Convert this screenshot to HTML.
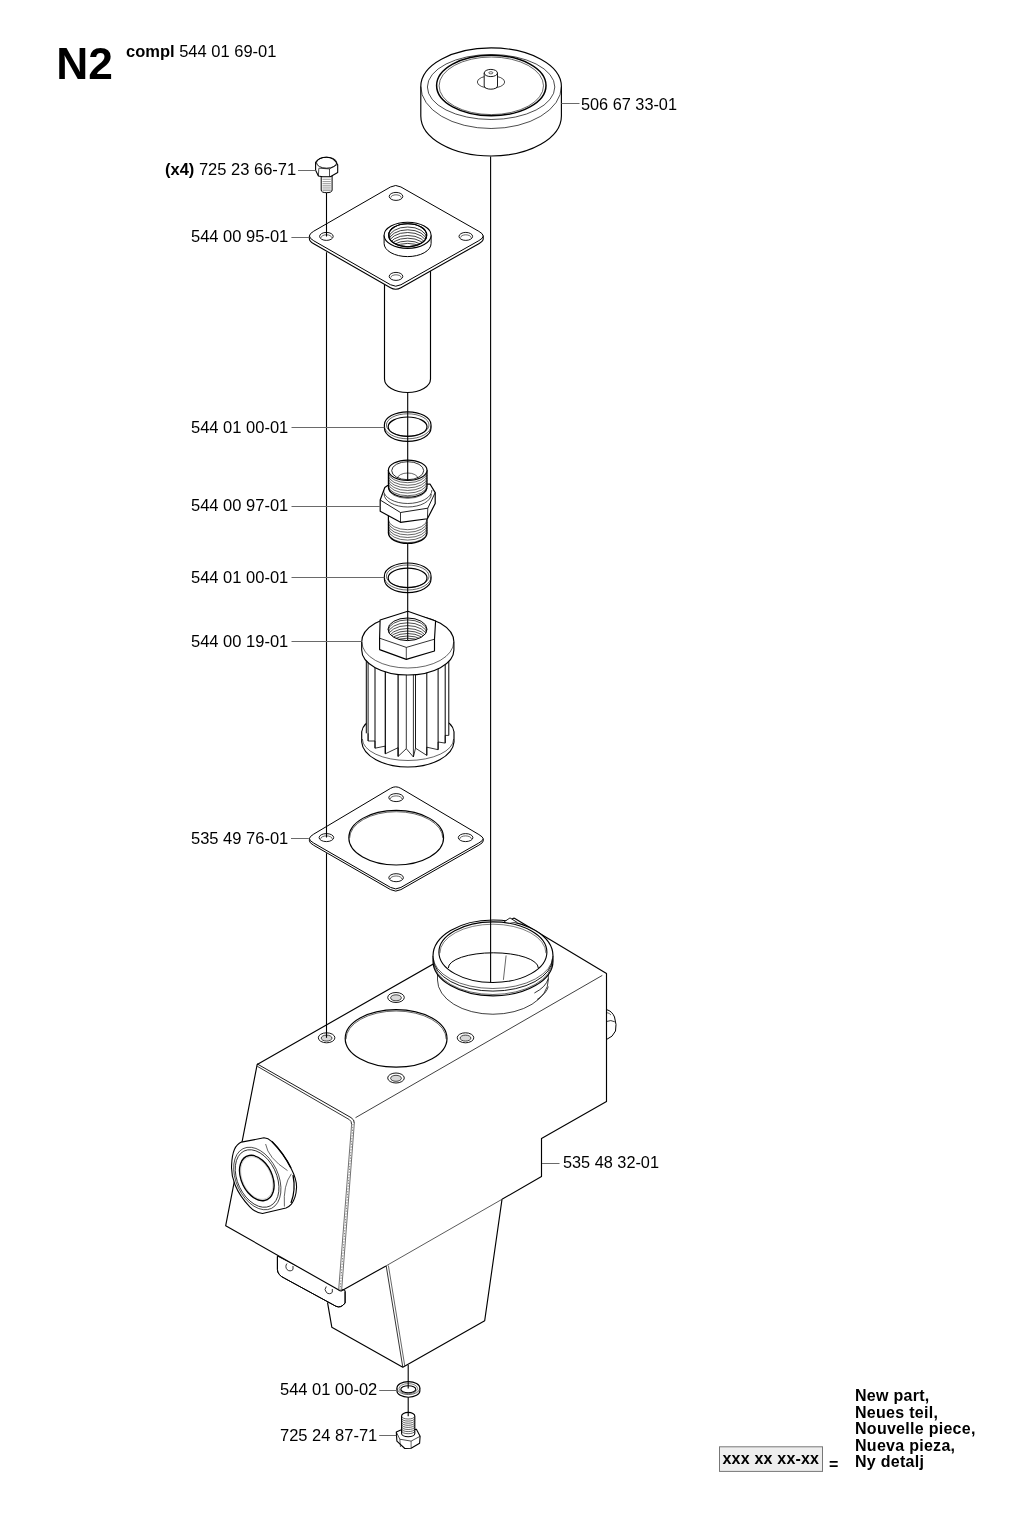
<!DOCTYPE html>
<html><head><meta charset="utf-8"><style>
html,body{margin:0;padding:0;background:#fff;width:1024px;height:1513px;overflow:hidden}
svg{display:block;will-change:transform}
text{font-family:"Liberation Sans",sans-serif;fill:#000}
</style></head><body>
<svg width="1024" height="1513" viewBox="0 0 1024 1513">
<path d="M420.8,86.5 L420.8,116 A70.3,40 0 0 0 561.4,116 L561.4,86.5 A70.3,38.6 0 0 0 420.8,86.5 Z" fill="#fff" stroke="#000" stroke-width="1.15" stroke-linejoin="round" />
<path d="M420.8,86.5 A70.3,42 0 0 0 561.4,86.5" fill="none" stroke="#000" stroke-width="0.7" stroke-linejoin="round" />
<ellipse cx="491.1" cy="87" rx="63.7" ry="32.5" fill="none" stroke="#000" stroke-width="0.7"/>
<ellipse cx="491.3" cy="85.5" rx="54.7" ry="30.3" fill="none" stroke="#000" stroke-width="1.5"/>
<ellipse cx="491.3" cy="85.8" rx="52.2" ry="28.8" fill="none" stroke="#000" stroke-width="0.6"/>
<ellipse cx="491" cy="82" rx="13.7" ry="6.2" fill="none" stroke="#000" stroke-width="0.7"/>
<path d="M484.2,73 L484.2,86 A6.65,3.2 0 0 0 497.5,86 L497.5,73" fill="#fff" stroke="#000" stroke-width="0.9" stroke-linejoin="round" />
<ellipse cx="490.85" cy="73" rx="6.65" ry="3.6" fill="#fff" stroke="#000" stroke-width="0.9"/>
<ellipse cx="490.85" cy="72.8" rx="2" ry="1.1" fill="none" stroke="#000" stroke-width="0.6"/>
<path d="M321.2,176 L321.2,190 Q321.2,192.7 326.6,192.7 Q332.1,192.7 332.1,190 L332.1,176 Z" fill="#fff" stroke="#000" stroke-width="1.0" stroke-linejoin="round" />
<line x1="322.5" y1="179.3" x2="330.8" y2="179.3" stroke="#777" stroke-width="0.7"/>
<line x1="322.5" y1="181.5" x2="330.8" y2="181.5" stroke="#777" stroke-width="0.7"/>
<line x1="322.5" y1="183.4" x2="330.8" y2="183.4" stroke="#777" stroke-width="0.7"/>
<line x1="322.5" y1="185.3" x2="330.8" y2="185.3" stroke="#777" stroke-width="0.7"/>
<line x1="322.5" y1="187.1" x2="330.8" y2="187.1" stroke="#777" stroke-width="0.7"/>
<line x1="322.5" y1="189" x2="330.8" y2="189" stroke="#777" stroke-width="0.7"/>
<line x1="322.5" y1="190.6" x2="330.8" y2="190.6" stroke="#777" stroke-width="0.7"/>
<path d="M315.6,162.2 L315.6,170.2 L318.4,176 L322.5,176.8 L330.3,176.8 L337.7,172.6 L337.7,164.8 Q334,157.2 326.6,157.2 Q319,157.2 315.6,162.2 Z" fill="#fff" stroke="#000" stroke-width="1.1" stroke-linejoin="round" />
<ellipse cx="326.6" cy="162.7" rx="10.1" ry="5.5" fill="none" stroke="#000" stroke-width="0.9"/>
<path d="M318.8,168.2 L329.5,168.9 L336.9,164.8" fill="none" stroke="#000" stroke-width="0.7" stroke-linejoin="round" />
<line x1="318.8" y1="168.4" x2="318.4" y2="176" stroke="#000" stroke-width="0.7"/>
<line x1="329.5" y1="168.9" x2="329.5" y2="176.7" stroke="#000" stroke-width="0.7"/>
<path d="M384.5,250 L384.5,379 A23,13.5 0 0 0 430.5,379 L430.5,250" fill="#fff" stroke="#000" stroke-width="1.15" stroke-linejoin="round" />
<path d="M309.40,236.00 L309.40,239.00 Q309.40,241.30 313.74,243.78 L390.49,287.72 Q395.70,290.70 400.92,287.75 L478.85,243.66 Q483.20,241.20 483.20,239.00 L483.20,236.00 Z" fill="#fff" stroke="#000" stroke-width="1.1" stroke-linejoin="round" />
<path d="M313.73,231.20 L390.50,186.99 Q395.70,184.00 400.91,186.97 L478.85,231.33 Q483.20,233.80 483.20,236.00 Q483.20,238.20 478.85,240.66 L400.92,284.75 Q395.70,287.70 390.49,284.72 L313.74,240.78 Q309.40,238.30 309.40,236.00 Q309.40,233.70 313.73,231.20 Z" fill="#fff" stroke="#000" stroke-width="1.0" stroke-linejoin="round" />
<ellipse cx="396" cy="196.4" rx="6.8" ry="4" fill="#fff" stroke="#000" stroke-width="0.9"/>
<path d="M390.8,197.6 A5.2,2.8 0 0 1 401.2,197.6" fill="none" stroke="#000" stroke-width="0.6" stroke-linejoin="round" />
<ellipse cx="326.4" cy="236.4" rx="6.8" ry="4" fill="#fff" stroke="#000" stroke-width="0.9"/>
<path d="M321.2,237.6 A5.2,2.8 0 0 1 331.6,237.6" fill="none" stroke="#000" stroke-width="0.6" stroke-linejoin="round" />
<ellipse cx="465.8" cy="236.4" rx="6.8" ry="4" fill="#fff" stroke="#000" stroke-width="0.9"/>
<path d="M460.6,237.6 A5.2,2.8 0 0 1 471,237.6" fill="none" stroke="#000" stroke-width="0.6" stroke-linejoin="round" />
<ellipse cx="396" cy="276.4" rx="6.8" ry="4" fill="#fff" stroke="#000" stroke-width="0.9"/>
<path d="M390.8,277.6 A5.2,2.8 0 0 1 401.2,277.6" fill="none" stroke="#000" stroke-width="0.6" stroke-linejoin="round" />
<path d="M384.1,235.3 L384.1,243.5 A23.5,13.1 0 0 0 431.1,243.5 L431.1,235.3" fill="#fff" stroke="#000" stroke-width="1.0" stroke-linejoin="round" />
<ellipse cx="407.6" cy="235.3" rx="23.5" ry="13.1" fill="#fff" stroke="#000" stroke-width="1.1"/>
<clipPath id="cb"><ellipse cx="407.7" cy="235.2" rx="19" ry="11.5"/></clipPath>
<ellipse cx="407.7" cy="235.2" rx="19" ry="11.5" fill="#fff" stroke="#000" stroke-width="1.1"/>
<g clip-path="url(#cb)"><ellipse cx="407.7" cy="238.50" rx="19" ry="11.5" fill="none" stroke="#000" stroke-width="0.75"/><ellipse cx="407.7" cy="241.30" rx="19" ry="11.5" fill="none" stroke="#000" stroke-width="0.75"/><ellipse cx="407.7" cy="244.00" rx="19" ry="11.5" fill="none" stroke="#000" stroke-width="0.75"/><ellipse cx="407.7" cy="247.00" rx="19" ry="11.5" fill="none" stroke="#000" stroke-width="0.75"/><ellipse cx="407.7" cy="249.70" rx="19" ry="11.5" fill="none" stroke="#000" stroke-width="0.75"/><ellipse cx="407.7" cy="252.50" rx="19" ry="11.5" fill="none" stroke="#000" stroke-width="0.75"/><ellipse cx="407.7" cy="254.90" rx="19" ry="11.5" fill="none" stroke="#000" stroke-width="0.75"/></g>
<ellipse cx="407.7" cy="235.2" rx="19" ry="11.5" fill="none" stroke="#000" stroke-width="1.1"/>
<path d="M384.4,424.8 L384.4,428.1 A23.3,13.3 0 0 0 431.0,428.1 L431.0,424.8 A23.3,13 0 0 0 384.4,424.8 Z" fill="#fff" stroke="#000" stroke-width="1.15" stroke-linejoin="round" />
<path d="M384.4,425.6 A23.3,13.2 0 0 0 431,425.6" fill="none" stroke="#000" stroke-width="0.6" stroke-linejoin="round" />
<ellipse cx="407.7" cy="425" rx="21.3" ry="11.2" fill="none" stroke="#000" stroke-width="0.6"/>
<ellipse cx="407.6" cy="426.7" rx="19.4" ry="9.7" fill="none" stroke="#000" stroke-width="1.2"/>
<path d="M384.4,576.0 L384.4,579.3 A23.3,13.3 0 0 0 431.0,579.3 L431.0,576.0 A23.3,13 0 0 0 384.4,576.0 Z" fill="#fff" stroke="#000" stroke-width="1.15" stroke-linejoin="round" />
<path d="M384.4,576.8 A23.3,13.2 0 0 0 431,576.8" fill="none" stroke="#000" stroke-width="0.6" stroke-linejoin="round" />
<ellipse cx="407.7" cy="576.2" rx="21.3" ry="11.2" fill="none" stroke="#000" stroke-width="0.6"/>
<ellipse cx="407.6" cy="577.9" rx="19.4" ry="9.7" fill="none" stroke="#000" stroke-width="1.2"/>
<path d="M388.4,515 L388.4,533 A19.3,10.4 0 0 0 427,533 L427,515 Z" fill="#fff" stroke="#000" stroke-width="1.2" stroke-linejoin="round" />
<path d="M388.4,519.5 A19.3,10.2 0 0 0 427,519.5" fill="none" stroke="#000" stroke-width="0.6" stroke-linejoin="round" />
<path d="M388.4,522.1 A19.3,10.2 0 0 0 427,522.1" fill="none" stroke="#000" stroke-width="0.6" stroke-linejoin="round" />
<path d="M388.4,524.7 A19.3,10.2 0 0 0 427,524.7" fill="none" stroke="#000" stroke-width="0.6" stroke-linejoin="round" />
<path d="M388.4,527.3 A19.3,10.2 0 0 0 427,527.3" fill="none" stroke="#000" stroke-width="0.6" stroke-linejoin="round" />
<path d="M388.4,529.9 A19.3,10.2 0 0 0 427,529.9" fill="none" stroke="#000" stroke-width="0.6" stroke-linejoin="round" />
<path d="M388.4,532.5 A19.3,10.2 0 0 0 427,532.5" fill="none" stroke="#000" stroke-width="0.6" stroke-linejoin="round" />
<path d="M380.2,500 L384.8,487.5 L387.6,485.5 L430,484 L435.2,492.6 L435.2,503.5 L427.4,518.75 L400.5,522.3 L380.2,511.3 Z" fill="#fff" stroke="#000" stroke-width="1.2" stroke-linejoin="round" />
<path d="M380.2,500 L400.5,512.5 L427.8,508.2 L435.2,492.6" fill="none" stroke="#000" stroke-width="0.9" stroke-linejoin="round" />
<line x1="400.5" y1="512.5" x2="400.5" y2="522.3" stroke="#000" stroke-width="0.8"/>
<line x1="427.8" y1="508.2" x2="427.4" y2="518.75" stroke="#000" stroke-width="0.8"/>
<path d="M384.1,494 A23.6,13 0 0 0 431.3,494" fill="none" stroke="#000" stroke-width="0.7" stroke-linejoin="round" />
<path d="M383.5,490 A24.2,13.5 0 0 0 431.9,490" fill="none" stroke="#000" stroke-width="0.7" stroke-linejoin="round" />
<path d="M388.4,470.3 L388.4,487 A19.3,10.2 0 0 0 427,487 L427,470.3 Z" fill="#fff" stroke="#000" stroke-width="1.2" stroke-linejoin="round" />
<path d="M388.4,472.5 A19.3,10.2 0 0 0 427,472.5" fill="none" stroke="#000" stroke-width="0.6" stroke-linejoin="round" />
<path d="M388.4,475.1 A19.3,10.2 0 0 0 427,475.1" fill="none" stroke="#000" stroke-width="0.6" stroke-linejoin="round" />
<path d="M388.4,477.7 A19.3,10.2 0 0 0 427,477.7" fill="none" stroke="#000" stroke-width="0.6" stroke-linejoin="round" />
<path d="M388.4,480.3 A19.3,10.2 0 0 0 427,480.3" fill="none" stroke="#000" stroke-width="0.6" stroke-linejoin="round" />
<path d="M388.4,482.9 A19.3,10.2 0 0 0 427,482.9" fill="none" stroke="#000" stroke-width="0.6" stroke-linejoin="round" />
<path d="M388.4,485.5 A19.3,10.2 0 0 0 427,485.5" fill="none" stroke="#000" stroke-width="0.6" stroke-linejoin="round" />
<path d="M388.4,488.1 A19.3,10.2 0 0 0 427,488.1" fill="none" stroke="#000" stroke-width="0.6" stroke-linejoin="round" />
<ellipse cx="407.7" cy="470.3" rx="19.3" ry="10.2" fill="#fff" stroke="#000" stroke-width="1.2"/>
<ellipse cx="407.7" cy="470.7" rx="16" ry="9" fill="none" stroke="#000" stroke-width="0.8"/>
<path d="M397.5,478.5 A10.2,5.5 0 0 1 417.9,478.5" fill="none" stroke="#000" stroke-width="0.6" stroke-linejoin="round" />
<path d="M361.7,731.8 L361.7,742 A46.2,26.2 0 0 0 454,742 L454,731.8 A46.2,21 0 0 0 361.7,731.8 Z" fill="#fff" stroke="#000" stroke-width="1.15" stroke-linejoin="round" />
<path d="M362.4,739 A45.6,21.5 0 0 0 453.6,739" fill="none" stroke="#000" stroke-width="0.6" stroke-linejoin="round" />
<path d="M366.3,650 L366.3,733.3 L368.1,741 L375,748.2 L385.3,753.8 L398.1,756.4 L413.4,757 L426.8,755.4 L438.1,749.7 L445.2,743.1 L448.8,735.4 L448.8,650 Z" fill="#fff" stroke="#fff" stroke-width="0.01" stroke-linejoin="round" />
<line x1="366.3" y1="655" x2="366.3" y2="733.3" stroke="#000" stroke-width="1.0"/>
<line x1="368.1" y1="655" x2="368.1" y2="741" stroke="#000" stroke-width="0.9"/>
<line x1="375" y1="655" x2="375" y2="748.2" stroke="#000" stroke-width="1.0"/>
<line x1="385.3" y1="655" x2="385.3" y2="753.8" stroke="#000" stroke-width="1.2"/>
<line x1="398.1" y1="655" x2="398.1" y2="756.4" stroke="#000" stroke-width="1.2"/>
<line x1="406.3" y1="655" x2="406.3" y2="748.7" stroke="#000" stroke-width="0.8"/>
<line x1="413.4" y1="655" x2="413.4" y2="757" stroke="#000" stroke-width="0.8"/>
<line x1="415.5" y1="655" x2="415.5" y2="748.2" stroke="#000" stroke-width="0.9"/>
<line x1="426.8" y1="655" x2="426.8" y2="755.4" stroke="#000" stroke-width="1.0"/>
<line x1="438.1" y1="655" x2="438.1" y2="749.7" stroke="#000" stroke-width="1.0"/>
<line x1="445.2" y1="655" x2="445.2" y2="743.1" stroke="#000" stroke-width="1.0"/>
<line x1="448.8" y1="655" x2="448.8" y2="735.4" stroke="#000" stroke-width="1.0"/>
<path d="M368.1,733.3 L368.1,741 L375,741 L375,748.2 L385.3,746.1 L385.3,753.8 L398.1,747.7 L398.1,756.4 L406.3,748.7 L413.4,757 L415.5,748.2 L426.8,755.4 L426.8,747.2 L438.1,749.7 L438.1,742 L445.2,743.1 L445.2,735.4 L448.8,735.4" fill="none" stroke="#000" stroke-width="0.8" stroke-linejoin="round" />
<path d="M361.7,642 L361.7,650 A46.1,25 0 0 0 453.9,650 L453.9,642 A46.1,26.5 0 0 0 361.7,642 Z" fill="#fff" stroke="#000" stroke-width="1.15" stroke-linejoin="round" />
<path d="M361.9,642 A45.9,26 0 0 0 453.7,642" fill="none" stroke="#000" stroke-width="0.6" stroke-linejoin="round" />
<path d="M407.8,611.3 L435.6,621 L434.5,639.2 L434.5,651 L406.3,659.4 L379.6,649.6 L379.6,638.2 L380.1,620 Z" fill="#fff" stroke="#000" stroke-width="1.15" stroke-linejoin="round" />
<path d="M379.6,638.2 L406.3,647.4 L434.5,639.2" fill="none" stroke="#000" stroke-width="0.8" stroke-linejoin="round" />
<line x1="406.3" y1="647.4" x2="406.3" y2="659.4" stroke="#000" stroke-width="0.7"/>
<clipPath id="cf"><ellipse cx="407.5" cy="629.3" rx="19.5" ry="11.3"/></clipPath>
<g clip-path="url(#cf)"><ellipse cx="407.5" cy="631.20" rx="19.5" ry="11.3" fill="none" stroke="#000" stroke-width="0.7"/><ellipse cx="407.5" cy="634.10" rx="19.5" ry="11.3" fill="none" stroke="#000" stroke-width="0.7"/><ellipse cx="407.5" cy="636.90" rx="19.5" ry="11.3" fill="none" stroke="#000" stroke-width="0.7"/><ellipse cx="407.5" cy="639.80" rx="19.5" ry="11.3" fill="none" stroke="#000" stroke-width="0.7"/><ellipse cx="407.5" cy="642.30" rx="19.5" ry="11.3" fill="none" stroke="#000" stroke-width="0.7"/><ellipse cx="407.5" cy="644.80" rx="19.5" ry="11.3" fill="none" stroke="#000" stroke-width="0.7"/><ellipse cx="407.5" cy="647.30" rx="19.5" ry="11.3" fill="none" stroke="#000" stroke-width="0.7"/><ellipse cx="407.5" cy="649.50" rx="19.5" ry="11.3" fill="none" stroke="#000" stroke-width="0.7"/></g>
<ellipse cx="407.5" cy="629.3" rx="19.5" ry="11.3" fill="none" stroke="#000" stroke-width="1.0"/>
<path d="M309.40,838.65 L309.40,840.85 Q309.40,842.80 313.73,845.30 L390.50,889.60 Q395.70,892.60 400.91,889.63 L478.86,845.18 Q483.20,842.70 483.20,841.00 L483.20,838.80 Z" fill="#fff" stroke="#000" stroke-width="1.0" stroke-linejoin="round" />
<path d="M313.70,834.14 L390.55,788.37 Q395.70,785.30 400.86,788.36 L478.90,834.55 Q483.20,837.10 483.20,838.80 Q483.20,840.50 478.86,842.98 L400.91,887.43 Q395.70,890.40 390.50,887.40 L313.73,843.10 Q309.40,840.60 309.40,838.65 Q309.40,836.70 313.70,834.14 Z" fill="#fff" stroke="#000" stroke-width="1.0" stroke-linejoin="round" />
<ellipse cx="396.1" cy="797.6" rx="7.3" ry="4" fill="#fff" stroke="#000" stroke-width="0.9"/>
<path d="M390.3,798.9 A5.8,3 0 0 1 401.9,798.9" fill="none" stroke="#000" stroke-width="0.6" stroke-linejoin="round" />
<ellipse cx="326.4" cy="837.6" rx="7.3" ry="4" fill="#fff" stroke="#000" stroke-width="0.9"/>
<path d="M320.6,838.9 A5.8,3 0 0 1 332.2,838.9" fill="none" stroke="#000" stroke-width="0.6" stroke-linejoin="round" />
<ellipse cx="465.6" cy="837.6" rx="7.3" ry="4" fill="#fff" stroke="#000" stroke-width="0.9"/>
<path d="M459.8,838.9 A5.8,3 0 0 1 471.4,838.9" fill="none" stroke="#000" stroke-width="0.6" stroke-linejoin="round" />
<ellipse cx="396.1" cy="877.7" rx="7.3" ry="4" fill="#fff" stroke="#000" stroke-width="0.9"/>
<path d="M390.3,879 A5.8,3 0 0 1 401.9,879" fill="none" stroke="#000" stroke-width="0.6" stroke-linejoin="round" />
<ellipse cx="396.2" cy="837.7" rx="47.4" ry="27.3" fill="none" stroke="#000" stroke-width="1.1"/>
<path d="M349.6,838.3 A46.6,26.6 0 0 1 442.8,838.3" fill="none" stroke="#000" stroke-width="0.6" stroke-linejoin="round" />
<path d="M502,1199.3 L484.7,1320.7 L402.8,1367.2 L331.8,1327.2 L327.5,1302.4 L386,1267 Z" fill="#fff" stroke="none"/>
<path d="M502,1199.3 L484.7,1320.7 L402.8,1367.2 L331.8,1327.2 L327.5,1302.4" fill="none" stroke="#000" stroke-width="1.15" stroke-linejoin="round" />
<line x1="386.2" y1="1266" x2="402.8" y2="1367.2" stroke="#000" stroke-width="0.8"/>
<line x1="388.4" y1="1265.5" x2="404.8" y2="1366" stroke="#000" stroke-width="0.6"/>
<path d="M277.4,1256 L277.4,1269.4 Q277.4,1275 284.6,1278.3 L336,1306.3 Q341,1308.5 345.1,1303 L345.1,1290.6 L277.4,1256 Z" fill="#fff" stroke="#000" stroke-width="1.0" stroke-linejoin="round" />
<path d="M257.2,1064.4 L353.5,1117.7 L339.7,1290.6 L225.7,1225.7 Z" fill="#fff" stroke="none"/>
<path d="M353.5,1117.7 L606.5,973.6 L606.5,1101.4 L541.5,1138.5 L541.5,1176.6 L339.7,1290.6 Z" fill="#fff" stroke="none"/>
<path d="M257.2,1064.4 L514,918 L606.5,973.6 L353.5,1117.7 Z" fill="#fff" stroke="none"/>
<path d="M277.4,1256.8 L277.4,1269.4 Q277.4,1275 284.6,1278.3 L336,1306.3 Q341,1308.5 345.1,1303 L345.1,1291.5" fill="none" stroke="#000" stroke-width="1.0" stroke-linejoin="round" />
<path d="M287,1263.5 A3.4,3.6 0 0 0 293,1269.5 L293,1266" fill="none" stroke="#000" stroke-width="0.8" stroke-linejoin="round" />
<path d="M326.3,1286.5 A3.4,3.6 0 0 0 332.3,1292.3 L332.3,1289" fill="none" stroke="#000" stroke-width="0.8" stroke-linejoin="round" />
<path d="M606.5,1009.6 Q612,1011 614.5,1017 Q617,1025 615.5,1031 Q613,1037 606.5,1039.5" fill="none" stroke="#000" stroke-width="1.0" stroke-linejoin="round" />
<path d="M606.5,1021.5 Q611,1019.5 614.8,1021.8" fill="none" stroke="#000" stroke-width="0.8" stroke-linejoin="round" />
<path d="M606.5,1012.5 Q609.5,1013 611,1015" fill="none" stroke="#000" stroke-width="0.6" stroke-linejoin="round" />
<path d="M514,918 L606.5,973.6 L606.5,1101.4 L541.5,1138.5 L541.5,1176.6 L502,1199.3" fill="none" stroke="#000" stroke-width="1.15" stroke-linejoin="round" />
<line x1="502" y1="1199.3" x2="386" y2="1265.9" stroke="#000" stroke-width="0.65"/>
<path d="M386,1265.9 L341.2,1291 L339.7,1290.6 L225.7,1225.7 L257.2,1064.4 L514,918" fill="none" stroke="#000" stroke-width="1.15" stroke-linejoin="round" />
<path d="M257,1063.8 L351,1117.6 Q354.6,1119.6 354.3,1123.5" fill="none" stroke="#000" stroke-width="0.9" stroke-linejoin="round" />
<path d="M257.3,1066.3 L349.3,1119.6 Q351.8,1121.2 351.6,1124.5" fill="none" stroke="#000" stroke-width="0.8" stroke-linejoin="round" />
<line x1="354.3" y1="1123.5" x2="341.6" y2="1290.6" stroke="#333" stroke-width="0.7"/>
<line x1="351.6" y1="1124.5" x2="338.6" y2="1290.6" stroke="#333" stroke-width="0.7"/>
<line x1="353" y1="1124" x2="340.1" y2="1290.6" stroke="#777" stroke-width="0.9" stroke-dasharray="1.4,1.4"/>
<line x1="355.5" y1="1117.7" x2="602.3" y2="975.4" stroke="#000" stroke-width="0.75"/>
<ellipse cx="396" cy="997.5" rx="8.3" ry="5" fill="#fff" stroke="#000" stroke-width="0.9"/>
<ellipse cx="396" cy="997.8" rx="5.4" ry="3" fill="#d8d8d8" stroke="#000" stroke-width="0.7"/>
<ellipse cx="326.6" cy="1037.8" rx="8.3" ry="5" fill="#fff" stroke="#000" stroke-width="0.9"/>
<ellipse cx="326.6" cy="1038.1" rx="5.4" ry="3" fill="#d8d8d8" stroke="#000" stroke-width="0.7"/>
<ellipse cx="465.5" cy="1037.8" rx="8.3" ry="5" fill="#fff" stroke="#000" stroke-width="0.9"/>
<ellipse cx="465.5" cy="1038.1" rx="5.4" ry="3" fill="#d8d8d8" stroke="#000" stroke-width="0.7"/>
<ellipse cx="396" cy="1078" rx="8.3" ry="5" fill="#fff" stroke="#000" stroke-width="0.9"/>
<ellipse cx="396" cy="1078.3" rx="5.4" ry="3" fill="#d8d8d8" stroke="#000" stroke-width="0.7"/>
<ellipse cx="396.1" cy="1038.4" rx="50.9" ry="28.8" fill="none" stroke="#000" stroke-width="1.2"/>
<path d="M346,1039.2 A50.1,28.2 0 0 1 446.2,1039.2" fill="none" stroke="#000" stroke-width="0.6" stroke-linejoin="round" />
<path d="M437.5,972 L437.5,980 A55.3,34.2 0 0 0 548.3,980 L548.3,972" fill="#fff" stroke="#000" stroke-width="0.75" stroke-linejoin="round" />
<path d="M433,956 L433,961 A60,34.8 0 0 0 553,961 L553,956 A60,36 0 0 0 433,956 Z" fill="#fff" stroke="#000" stroke-width="1.15" stroke-linejoin="round" />
<path d="M432.9,956 A60,32.5 0 0 0 552.9,956" fill="none" stroke="#000" stroke-width="0.6" stroke-linejoin="round" />
<path d="M433.3,958.5 A59.6,32.6 0 0 0 552.5,958.5" fill="none" stroke="#000" stroke-width="0.9" stroke-linejoin="round" />
<path d="M433.3,960.5 A59.6,34 0 0 0 552.5,960.5" fill="none" stroke="#000" stroke-width="0.6" stroke-linejoin="round" />
<ellipse cx="492.9" cy="952.2" rx="54" ry="30.3" fill="none" stroke="#000" stroke-width="1.1"/>
<path d="M439.9,953.2 A53,29 0 0 1 545.9,953.2" fill="none" stroke="#000" stroke-width="0.5" stroke-linejoin="round" />
<path d="M448.3,968 A45,15.2 0 0 1 538.3,968" fill="none" stroke="#000" stroke-width="1.0" stroke-linejoin="round" />
<line x1="506.1" y1="955.5" x2="503.4" y2="979.9" stroke="#000" stroke-width="0.6"/>
<path d="M504.1,921.9 L510,917.9 L517.3,922.5" fill="#fff" stroke="#000" stroke-width="0.9" stroke-linejoin="round" />
<path d="M534.4,993 Q546,987 548.3,978.6" fill="none" stroke="#000" stroke-width="0.8" stroke-linejoin="round" />
<path d="M537,999.6 Q547,993 548.3,986.5" fill="none" stroke="#000" stroke-width="0.7" stroke-linejoin="round" />
<path d="M241.4,1142.1 L264,1137.8 Q268,1138 271.9,1141.7 Q283,1152 291.4,1169 Q297,1180 296.5,1188 Q296,1198 291.4,1204.2 Q289,1207 286,1208 L262.5,1213.5 Q255,1212.5 249.8,1206.8 Q239.5,1196 235,1184.7 Q231,1175 231.6,1165.2 Q232,1155 234.4,1149.5 Q237,1144 241.4,1142.1 Z" fill="#fff" stroke="#000" stroke-width="1.1" stroke-linejoin="round" />
<path d="M265.6,1144 Q268,1158 287.5,1170.6" fill="none" stroke="#000" stroke-width="0.6" stroke-linejoin="round" />
<path d="M284.4,1206.6 Q283,1185 291.4,1173.8" fill="none" stroke="#000" stroke-width="0.6" stroke-linejoin="round" />
<path d="M272,1141.5 Q284,1154 291,1168" fill="none" stroke="#000" stroke-width="1.4" stroke-linejoin="round" />
<path d="M293,1175 Q296,1190 291,1203" fill="none" stroke="#000" stroke-width="1.3" stroke-linejoin="round" />
<g transform="matrix(21.3,-3.4,10.3,31.1,257.3,1178.5)"><circle r="1" fill="none" stroke="#000" stroke-width="0.7" vector-effect="non-scaling-stroke"/></g>
<g transform="matrix(19.7,-3.2,9.5,28.6,257.1,1178.5)"><circle r="1" fill="none" stroke="#000" stroke-width="0.8" vector-effect="non-scaling-stroke"/></g>
<g transform="matrix(15.5,-2.5,7.5,22.5,256.8,1178)"><circle r="1" fill="#fff" stroke="#000" stroke-width="1.5" vector-effect="non-scaling-stroke"/></g>
<g transform="matrix(14.5,-2.3,7,21.2,256.8,1178)"><circle r="1" fill="none" stroke="#bbb" stroke-width="0.7" vector-effect="non-scaling-stroke"/></g>
<path d="M396.9,1388.1 L396.9,1390.7 A11.5,6.5 0 0 0 419.9,1390.7 L419.9,1388.1 A11.5,6.5 0 0 0 396.9,1388.1 Z" fill="#fff" stroke="#000" stroke-width="1.1" stroke-linejoin="round" />
<path d="M396.9,1388.1 A11.5,6.5 0 0 0 419.9,1388.1" fill="none" stroke="#000" stroke-width="0.6" stroke-linejoin="round" />
<ellipse cx="408.3" cy="1388.6" rx="9.3" ry="5" fill="none" stroke="#000" stroke-width="0.5"/>
<ellipse cx="408.3" cy="1389.2" rx="7.5" ry="3.5" fill="#fff" stroke="#000" stroke-width="1.1"/>
<path d="M396.3,1432.1 L400.8,1430 L416.4,1429.2 L420.1,1436.3 L419.6,1443.2 L411.1,1448.2 L404.8,1448.5 L396.9,1441.1 Z" fill="#fff" stroke="#000" stroke-width="1.1" stroke-linejoin="round" />
<path d="M396.3,1432.1 L399.8,1439.2 L411.1,1441.1 L420.1,1436.3" fill="none" stroke="#000" stroke-width="0.7" stroke-linejoin="round" />
<line x1="399.8" y1="1439.2" x2="400.5" y2="1447" stroke="#000" stroke-width="0.6"/>
<line x1="411.1" y1="1441.1" x2="411.1" y2="1448.2" stroke="#000" stroke-width="0.6"/>
<path d="M401.6,1416 L401.6,1433.5 A6.6,3.3 0 0 0 414.8,1433.5 L414.8,1416 A6.6,3.6 0 0 0 401.6,1416 Z" fill="#fff" stroke="#000" stroke-width="1.1" stroke-linejoin="round" />
<path d="M401.8,1416.5 A6.4,2.5 0 0 0 414.6,1416.5" fill="none" stroke="#000" stroke-width="0.6" stroke-linejoin="round" />
<path d="M401.8,1418.6 A6.4,2.5 0 0 0 414.6,1418.6" fill="none" stroke="#000" stroke-width="0.6" stroke-linejoin="round" />
<path d="M401.8,1420.7 A6.4,2.5 0 0 0 414.6,1420.7" fill="none" stroke="#000" stroke-width="0.6" stroke-linejoin="round" />
<path d="M401.8,1422.8 A6.4,2.5 0 0 0 414.6,1422.8" fill="none" stroke="#000" stroke-width="0.6" stroke-linejoin="round" />
<path d="M401.8,1424.9 A6.4,2.5 0 0 0 414.6,1424.9" fill="none" stroke="#000" stroke-width="0.6" stroke-linejoin="round" />
<path d="M401.8,1427 A6.4,2.5 0 0 0 414.6,1427" fill="none" stroke="#000" stroke-width="0.6" stroke-linejoin="round" />
<path d="M401.8,1429.1 A6.4,2.5 0 0 0 414.6,1429.1" fill="none" stroke="#000" stroke-width="0.6" stroke-linejoin="round" />
<path d="M401.8,1431.2 A6.4,2.5 0 0 0 414.6,1431.2" fill="none" stroke="#000" stroke-width="0.6" stroke-linejoin="round" />
<line x1="326.5" y1="192.7" x2="326.5" y2="236.5" stroke="#000" stroke-width="1.1"/>
<line x1="326.5" y1="252.3" x2="326.5" y2="837.6" stroke="#000" stroke-width="1.1"/>
<line x1="326.5" y1="853.2" x2="326.5" y2="1037.8" stroke="#000" stroke-width="1.1"/>
<line x1="490.6" y1="156.5" x2="490.6" y2="982.5" stroke="#000" stroke-width="1.1"/>
<line x1="407.7" y1="392" x2="407.7" y2="480" stroke="#000" stroke-width="1.1"/>
<line x1="407.7" y1="543.5" x2="407.7" y2="640.5" stroke="#000" stroke-width="1.1"/>
<line x1="408.2" y1="1365" x2="408.2" y2="1388.5" stroke="#000" stroke-width="1.1"/>
<line x1="408.2" y1="1397.2" x2="408.2" y2="1416.2" stroke="#000" stroke-width="1.1"/>
<text x="56.2" y="79" font-size="44.3" font-weight="bold" text-anchor="start">N2</text>
<text x="126" y="57" font-size="16.5"><tspan font-weight="bold">compl</tspan> 544 01 69-01</text>
<text x="165" y="175" font-size="16.5"><tspan font-weight="bold">(x4)</tspan> 725 23 66-71</text>
<text x="191" y="242" font-size="16.5" font-weight="normal" text-anchor="start">544 00 95-01</text>
<text x="581" y="109.6" font-size="16.3" font-weight="normal" text-anchor="start">506 67 33-01</text>
<text x="191" y="432.5" font-size="16.5" font-weight="normal" text-anchor="start">544 01 00-01</text>
<text x="191" y="510.8" font-size="16.5" font-weight="normal" text-anchor="start">544 00 97-01</text>
<text x="191" y="583" font-size="16.5" font-weight="normal" text-anchor="start">544 01 00-01</text>
<text x="191" y="647" font-size="16.5" font-weight="normal" text-anchor="start">544 00 19-01</text>
<text x="191" y="843.5" font-size="16.5" font-weight="normal" text-anchor="start">535 49 76-01</text>
<text x="563" y="1168.2" font-size="16.3" font-weight="normal" text-anchor="start">535 48 32-01</text>
<text x="280" y="1395" font-size="16.5" font-weight="normal" text-anchor="start">544 01 00-02</text>
<text x="280" y="1441" font-size="16.5" font-weight="normal" text-anchor="start">725 24 87-71</text>
<text x="855" y="1401.0" font-size="16" font-weight="bold" letter-spacing="0.28">New part,</text>
<text x="855" y="1417.5" font-size="16" font-weight="bold" letter-spacing="0.28">Neues teil,</text>
<text x="855" y="1434.0" font-size="16" font-weight="bold" letter-spacing="0.28">Nouvelle piece,</text>
<text x="855" y="1450.5" font-size="16" font-weight="bold" letter-spacing="0.28">Nueva pieza,</text>
<text x="855" y="1467.0" font-size="16" font-weight="bold" letter-spacing="0.28">Ny detalj</text>
<rect x="719.5" y="1446.8" width="103" height="24.6" fill="#eee" stroke="#777" stroke-width="1"/>
<text x="722.5" y="1464" font-size="16" font-weight="bold" letter-spacing="0.2">xxx xx xx-xx</text>
<text x="829" y="1469.5" font-size="16" font-weight="bold" text-anchor="start">=</text>
<line x1="298" y1="170.5" x2="315.6" y2="170.5" stroke="#6a6a6a" stroke-width="1.0"/>
<line x1="291.4" y1="237.5" x2="309.3" y2="237.5" stroke="#6a6a6a" stroke-width="1.0"/>
<line x1="561.4" y1="103.5" x2="579.5" y2="103.5" stroke="#6a6a6a" stroke-width="1.0"/>
<line x1="291.5" y1="427.5" x2="384.4" y2="427.5" stroke="#6a6a6a" stroke-width="1.0"/>
<line x1="291.5" y1="506.5" x2="380.3" y2="506.5" stroke="#6a6a6a" stroke-width="1.0"/>
<line x1="291.5" y1="577.5" x2="384.4" y2="577.5" stroke="#6a6a6a" stroke-width="1.0"/>
<line x1="291.5" y1="641.5" x2="361.7" y2="641.5" stroke="#6a6a6a" stroke-width="1.0"/>
<line x1="291" y1="838.5" x2="308.8" y2="838.5" stroke="#6a6a6a" stroke-width="1.0"/>
<line x1="542" y1="1163.5" x2="559.5" y2="1163.5" stroke="#6a6a6a" stroke-width="1.0"/>
<line x1="379.2" y1="1390.5" x2="396.9" y2="1390.5" stroke="#6a6a6a" stroke-width="1.0"/>
<line x1="379.2" y1="1435.5" x2="396.3" y2="1435.5" stroke="#6a6a6a" stroke-width="1.0"/>
</svg></body></html>
